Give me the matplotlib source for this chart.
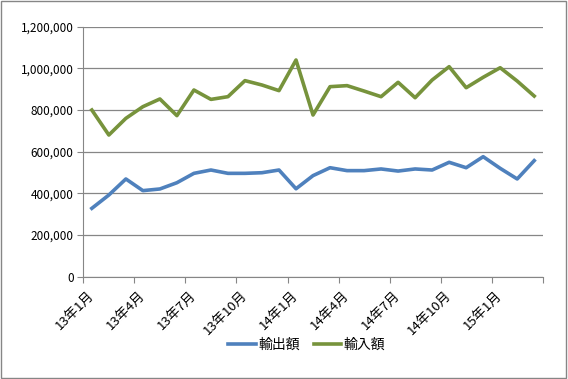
import numpy as np
import matplotlib
matplotlib.use("Agg")
import matplotlib.pyplot as plt
from matplotlib.ticker import FuncFormatter, FixedLocator

plt.rcParams['font.family'] = ['Noto Sans CJK JP', 'DejaVu Sans']

# monthly data, 13年1月 .. 15年3月
months = [f"{y}年{m}月" for y in (13, 14, 15) for m in range(1, 13)][:27]
exports = [328000, 392000, 469000, 413000, 421000, 451000, 496000, 512000, 496000,
           496000, 499000, 512000, 422000, 485000, 523000, 509000, 509000, 517000,
           507000, 517000, 512000, 549000, 523000, 576000, 520000, 469000, 557000]
imports = [800000, 680000, 760000, 816000, 853000, 773000, 896000, 851000, 864000,
           941000, 920000, 893000, 1040000, 776000, 912000, 917000, 891000, 864000,
           933000, 859000, 944000, 1008000, 907000, 957000, 1003000, 939000, 867000]
series_names = ["輸出額", "輸入額"]
colors = ["#4F81BD", "#77933C"]

fig = plt.figure(figsize=(5.68, 3.79), dpi=100)
ax = fig.add_axes([0.1467, 0.270, 0.8088, 0.6596])

x = np.arange(len(months))
ax.plot(x, exports, color=colors[0], lw=2.6, label=series_names[0], solid_joinstyle='round')
ax.plot(x, imports, color=colors[1], lw=2.6, label=series_names[1], solid_joinstyle='round')

ax.set_xlim(-0.5, len(months) - 0.5)
ax.set_ylim(0, 1200000)
ax.set_yticks(np.arange(0, 1200001, 200000))
ax.yaxis.set_major_formatter(FuncFormatter(lambda v, p: f"{int(v):,}"))
ax.grid(axis='y', color='#868686', lw=0.9)
ax.set_axisbelow(True)

# category boundary ticks every 3 months, labels at category centres
ax.xaxis.set_major_locator(FixedLocator(np.arange(-0.5, len(months), 3)))
ax.xaxis.set_minor_locator(FixedLocator(x[::3]))
ax.set_xticklabels([])
ax.set_xticklabels([months[i] for i in x[::3]], minor=True, rotation=45,
                   ha='right', va='center', rotation_mode='anchor', fontsize=9.5)
ax.tick_params(axis='x', which='major', length=4, color='#868686')
ax.tick_params(axis='x', which='minor', length=0, pad=12)
ax.tick_params(axis='y', length=4, color='#868686', labelsize=8.5, pad=3)

for s in ['top', 'right']:
    ax.spines[s].set_visible(False)
for s in ['left', 'bottom']:
    ax.spines[s].set_color('#868686')

leg = fig.legend(loc='center', bbox_to_anchor=(0.54, 0.09), ncol=2, frameon=False,
                 fontsize=10, handlelength=2.0, columnspacing=1.0, handletextpad=0.15)

# outer chart border
fig.patches.append(plt.Rectangle((0.002, 0.003), 0.994, 0.994, transform=fig.transFigure,
                                 fill=False, edgecolor='#868686', lw=1))

fig.savefig("out.png", dpi=100)
